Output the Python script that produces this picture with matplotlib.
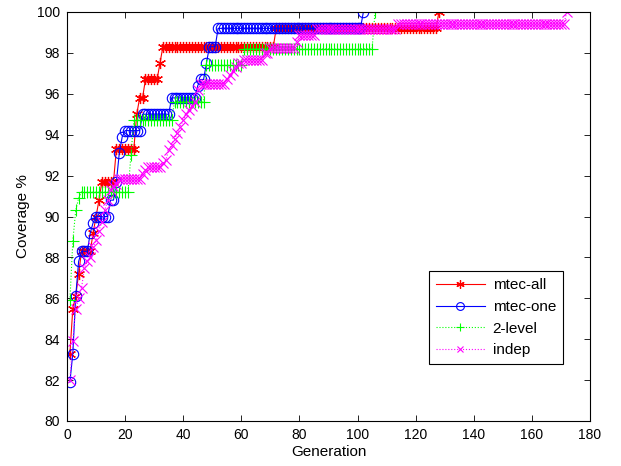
import numpy as np
import matplotlib
matplotlib.use("Agg")
import matplotlib.pyplot as plt

plt.rcParams['font.family'] = ['Liberation Sans', 'DejaVu Sans']

# Run-length encoded per-generation coverage values (value, number of generations)
mtec_all_vals = [83.3, 85.5, 86.1, 87.2, 88.3, 89.2, 90.0, 90.8, 91.7, 93.3, 95.0, 95.8, 96.7, 97.5, 98.3, 99.2, 100.0]
mtec_all_runs = [1, 1, 1, 1, 4, 1, 1, 1, 5, 7, 1, 2, 5, 1, 39, 56, 1]

mtec_one_vals = [81.9, 83.3, 86.1, 87.8, 88.3, 89.2, 89.7, 90.0, 90.8, 91.7, 93.1, 93.9, 94.2, 95.0, 95.8, 96.4, 96.7, 97.5, 98.3, 99.2, 100.0]
mtec_one_runs = [1, 1, 1, 1, 3, 1, 1, 5, 2, 1, 1, 1, 6, 10, 9, 1, 2, 1, 3, 50, 1]

two_level_vals = [85.9, 88.8, 90.3, 90.9, 91.2, 93.0, 94.7, 95.6, 97.4, 98.2, 100.0]
two_level_runs = [1, 1, 1, 1, 17, 1, 14, 11, 13, 45, 1]

indep_vals = [82.0, 83.9, 85.5, 86.0, 86.5, 87.5, 87.8, 88.0, 88.5, 88.85, 89.3, 89.75, 90.3, 90.8,
              91.3, 91.5, 91.6, 91.85, 92.1, 92.27, 92.4, 92.6, 92.76, 93.25, 93.5, 93.8, 94.1, 94.4,
              94.7, 95.0, 95.2, 95.4, 95.6, 96.2, 96.5, 96.7, 96.9, 97.1, 97.3, 97.5, 97.65, 98.0,
              98.22, 98.55, 98.87, 99.17, 99.41, 100.0]
indep_runs = [1, 1, 1, 1, 1, 1, 1, 1, 1, 1, 1, 1, 1, 1,
              1, 1, 1, 8, 1, 1, 5, 1, 1, 1, 1, 1, 1, 1,
              1, 1, 1, 1, 1, 1, 9, 1, 1, 1, 1, 2, 7, 2,
              9, 1, 6, 28, 58, 1]

labels = ['mtec-all', 'mtec-one', '2-level', 'indep']
xticks = list(range(0, 181, 20))
yticks = list(range(80, 101, 2))


def expand(vals, runs):
    y = np.repeat(vals, runs)
    x = np.arange(1, len(y) + 1)
    return x, y


fig = plt.figure(figsize=(6.21, 4.66), dpi=100)
ax = fig.add_axes([67 / 621, 1 - 421 / 466, 523 / 621, 409 / 466])

asterisk = (6, 2, 0)

x, y = expand(mtec_all_vals, mtec_all_runs)
ax.plot(x, y, '-', marker=asterisk, color='#ff0000', lw=0.8, ms=8, mew=0.9, label=labels[0])
x, y = expand(mtec_one_vals, mtec_one_runs)
ax.plot(x, y, '-o', color='#0000ff', lw=0.8, ms=7.5, mew=0.8, mfc='none', label=labels[1])
x, y = expand(two_level_vals, two_level_runs)
ax.plot(x, y, ':+', color='#00ff00', lw=0.8, ms=8, mew=0.8, label=labels[2])
x, y = expand(indep_vals, indep_runs)
ax.plot(x, y, ':x', color='#ff00ff', lw=0.8, ms=6.5, mew=0.8, label=labels[3])

ax.set_xlim(0, 180)
ax.set_ylim(80, 100)
ax.set_xticks(xticks)
ax.set_yticks(yticks)
ax.tick_params(direction='in', top=True, right=True, labelsize=10, length=4, width=0.6, pad=5)
for s in ax.spines.values():
    s.set_linewidth(0.8)
ax.set_xlabel('Generation', fontsize=11, labelpad=2)
ax.set_ylabel('Coverage %', fontsize=11, labelpad=5)

leg = ax.legend(loc='lower right', bbox_to_anchor=(0.948, 0.139), fontsize=11,
                fancybox=False, edgecolor='black', framealpha=1, handlelength=3.2,
                borderpad=0.45, labelspacing=0.5, handletextpad=0.5, borderaxespad=0,
                markerscale=0.75)
leg.get_frame().set_linewidth(0.8)

fig.savefig('out.png', dpi=100)
